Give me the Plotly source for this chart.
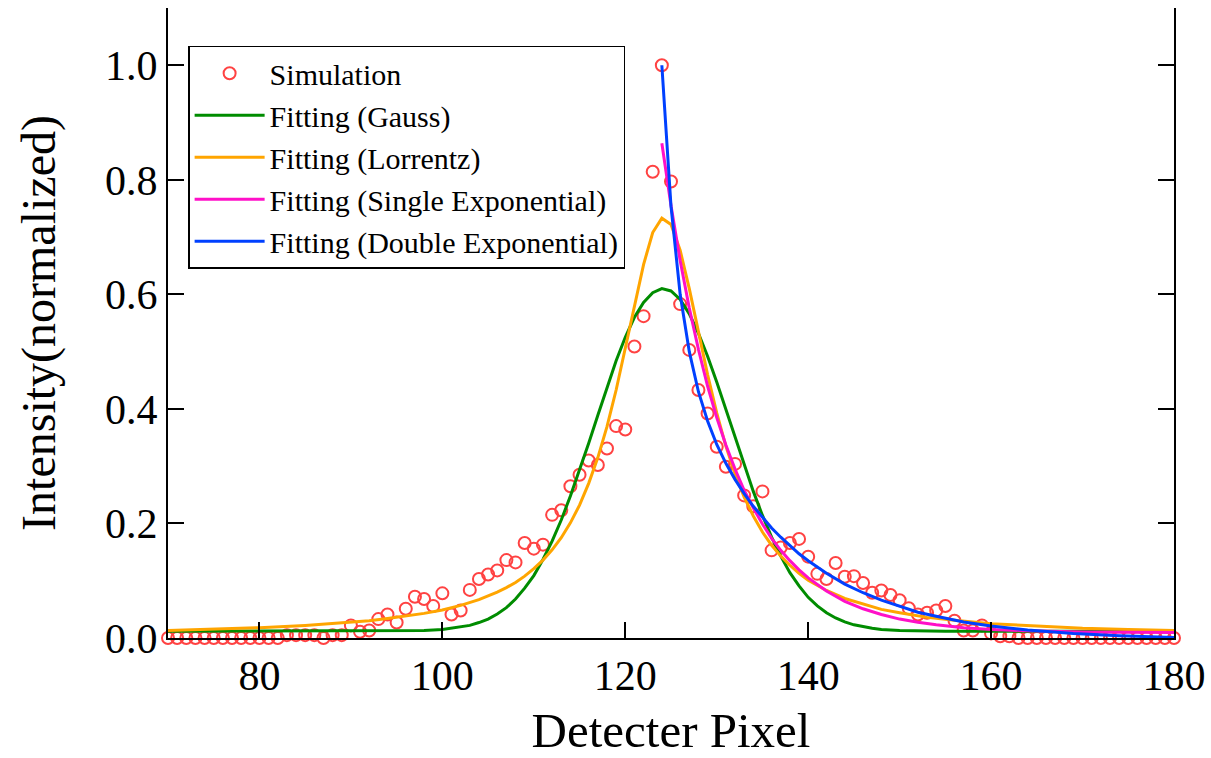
import plotly.graph_objects as go

# Simulated detector profile (one value per pixel, 70..180)
pixel = list(range(70, 181))
simulation = (
    [0.0] * 13
    + [0.005, 0.005, 0.005, 0.005, 0.0, 0.005, 0.005,
       0.022, 0.011, 0.013, 0.033, 0.041, 0.027, 0.051, 0.072, 0.068, 0.056,
       0.078, 0.041, 0.048, 0.084, 0.103, 0.111, 0.118, 0.136, 0.132, 0.166,
       0.156, 0.163, 0.215, 0.223, 0.265, 0.285, 0.310, 0.302, 0.331, 0.370,
       0.364, 0.509, 0.562, 0.814, 1.000, 0.797, 0.583, 0.503, 0.433, 0.392,
       0.334, 0.299, 0.304, 0.249, 0.230, 0.256, 0.153, 0.158, 0.166, 0.173,
       0.142, 0.112, 0.103, 0.131, 0.107, 0.108, 0.096, 0.079, 0.083, 0.075,
       0.066, 0.052, 0.041, 0.044, 0.048, 0.056, 0.030, 0.013, 0.013, 0.022,
       0.008, 0.003, 0.003]
    + [0.0] * 18
)

# Gaussian fit
gauss_x = [70, 90, 95, 98] + list(range(100, 149)) + [150, 155, 180]
gauss_y = [0.012, 0.012, 0.012, 0.013,
           0.015, 0.017, 0.019, 0.022, 0.027, 0.033, 0.042, 0.053, 0.068, 0.087,
           0.109, 0.137, 0.169, 0.206, 0.248, 0.293, 0.340, 0.389, 0.438, 0.484,
           0.525, 0.560, 0.586, 0.603, 0.610, 0.606, 0.591, 0.566, 0.532, 0.492,
           0.447, 0.399, 0.350, 0.302, 0.256, 0.214, 0.176, 0.143, 0.114, 0.091,
           0.071, 0.056, 0.044, 0.035, 0.028, 0.023, 0.0195, 0.017, 0.015,
           0.013, 0.012, 0.012]

# Lorentzian fit
lorentz_x = [70, 75, 80, 85, 88, 90, 92, 94, 96, 98, 100, 102, 104, 106] \
    + list(range(107, 141)) + [142, 144, 146, 148, 150, 153, 156, 160, 165, 170, 175, 180]
lorentz_y = [0.013, 0.015, 0.018, 0.022, 0.025, 0.027, 0.030, 0.034, 0.038, 0.043,
             0.049, 0.057, 0.067, 0.080,
             0.088, 0.097, 0.108, 0.121, 0.136, 0.154, 0.175, 0.201, 0.232, 0.270,
             0.315, 0.369, 0.433, 0.504, 0.580, 0.652, 0.708, 0.733, 0.722, 0.677,
             0.610, 0.535, 0.460, 0.393, 0.335, 0.287, 0.246, 0.213, 0.185, 0.162,
             0.143, 0.127, 0.113, 0.101,
             0.083, 0.069, 0.059, 0.050, 0.044, 0.036, 0.031, 0.025, 0.021, 0.017,
             0.015, 0.013]

# Single exponential decay fit (right flank)
single_x = list(range(124, 141)) + [142, 144, 146, 148, 150, 152, 154, 157, 160, 164, 170, 180]
single_y = [0.864, 0.755, 0.659, 0.576, 0.504, 0.440, 0.385, 0.337, 0.295, 0.258,
            0.227, 0.199, 0.174, 0.153, 0.135, 0.119, 0.105,
            0.082, 0.064, 0.051, 0.041, 0.033, 0.0275, 0.023, 0.018, 0.015,
            0.0126, 0.0106, 0.0094]

# Double exponential decay fit (right flank)
double_x = list(range(124, 141)) + [142, 144, 146, 148, 150, 152, 154, 157, 160, 164, 169, 174, 180]
double_y = [1.000, 0.754, 0.600, 0.500, 0.430, 0.379, 0.338, 0.305, 0.277, 0.252,
            0.230, 0.210, 0.192, 0.176, 0.161, 0.147, 0.135,
            0.113, 0.094, 0.079, 0.066, 0.055, 0.045, 0.038, 0.028, 0.021,
            0.014, 0.008, 0.004, 0.001]

FONT = "Liberation Serif, Times New Roman, serif"

fig = go.Figure()
fig.add_trace(go.Scatter(
    x=pixel, y=simulation, mode="markers", name="Simulation",
    marker=dict(symbol="circle-open", size=12, color="#ff4242",
                line=dict(width=2, color="#ff4242")),
    cliponaxis=False,
))
fits = [
    ("Fitting (Gauss)", gauss_x, gauss_y, "#008c00"),
    ("Fitting (Lorrentz)", lorentz_x, lorentz_y, "#ffa500"),
    ("Fitting (Single Exponential)", single_x, single_y, "#ff10c8"),
    ("Fitting (Double Exponential)", double_x, double_y, "#0040ff"),
]
for name, xs, ys, col in fits:
    fig.add_trace(go.Scatter(
        x=xs, y=ys, mode="lines", name=name,
        line=dict(color=col, width=3), cliponaxis=False,
    ))

fig.update_layout(
    width=1211, height=758,
    margin=dict(l=168, r=37, t=8, b=120),
    plot_bgcolor="white", paper_bgcolor="white",
    font=dict(family=FONT, color="black", size=42),
    showlegend=True,
    legend=dict(
        x=0.02, y=0.94, xanchor="left", yanchor="top",
        bgcolor="white", bordercolor="black", borderwidth=1.5,
        font=dict(family=FONT, size=30, color="black"),
        itemwidth=70, tracegroupgap=0,
    ),
    xaxis=dict(
        range=[70, 180], tickmode="array", tickvals=[80, 100, 120, 140, 160, 180],
        ticks="inside", ticklen=16, tickwidth=2, tickcolor="black",
        showline=True, linecolor="black", linewidth=2, mirror=False,
        showgrid=False, zeroline=False, automargin=False,
        tickfont=dict(family=FONT, size=42, color="black"),
        title=dict(text="Detecter Pixel", font=dict(family=FONT, size=49, color="black"),
                   standoff=21),
    ),
    yaxis=dict(
        range=[0, 1.1], tickmode="array", tickvals=[0, 0.2, 0.4, 0.6, 0.8, 1.0],
        tickformat=".1f",
        ticks="inside", ticklen=16, tickwidth=2, tickcolor="black",
        showline=True, linecolor="black", linewidth=2, mirror="ticks",
        showgrid=False, zeroline=False, automargin=False,
        tickfont=dict(family=FONT, size=42, color="black"),
        title=dict(text="Intensity(normalized)", font=dict(family=FONT, size=48, color="black"),
                   standoff=34),
    ),
)

fig.write_html("out.html")
